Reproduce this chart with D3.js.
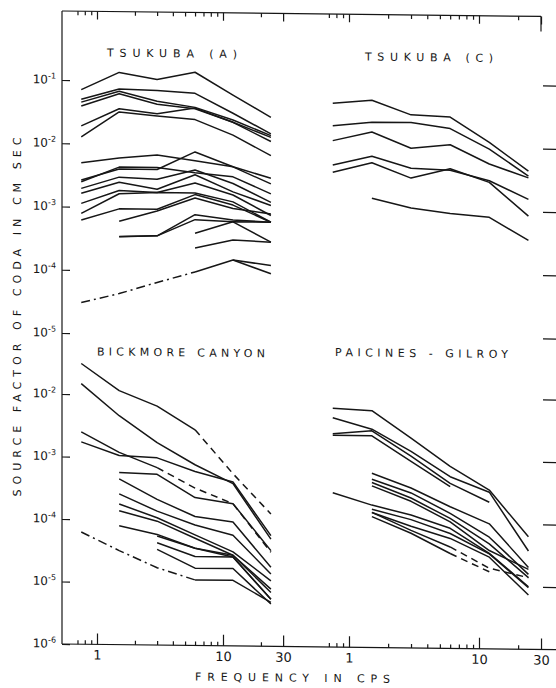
<!DOCTYPE html>
<html>
<head>
<meta charset="utf-8">
<script src="https://cdn.jsdelivr.net/npm/d3@7"></script>
<style>
  body { margin: 0; background: #fff; }
  svg { display: block; }
  text { font-family: "DejaVu Sans", "Liberation Sans", sans-serif; fill: #161616; }
</style>
</head>
<body>
<svg id="fig" width="556" height="688"></svg>
<script>
// Octave-band centre frequencies (cps) at which the coda source factors were measured
const freqs = [0.75, 1.5, 3, 6, 12, 24];

// Frequency axis ticks
const majorFreqTicks = [1, 10, 30];
const majorFreqLabels = ["1", "10", "30"];
const minorFreqTicks = [0.7, 0.8, 0.9, 2, 3, 4, 5, 6, 7, 8, 9, 20];

// Amplitude axis decades (upper and lower rows of panels)
const upperDecades = [1e-1, 1e-2, 1e-3, 1e-4, 1e-5];
const lowerDecades = [1e-2, 1e-3, 1e-4, 1e-5, 1e-6];
const lowerRightTicks = [1e-2, 1e-3, 1e-4, 1e-5];

// Source factor of coda (cm sec), one row per earthquake, null = no measurement
const tsukubaA = [
  [7.1e-2, 1.35e-1, 1.06e-1, 1.40e-1, 6.2e-2, 2.8e-2],
  [5.0e-2, 7.4e-2, 7.1e-2, 6.5e-2, 3.2e-2, 1.53e-2],
  [4.5e-2, 6.8e-2, 4.8e-2, 3.9e-2, 2.5e-2, 1.44e-2],
  [3.9e-2, 6.2e-2, 4.3e-2, 3.7e-2, 2.3e-2, 1.16e-2],
  [1.9e-2, 3.6e-2, 3.05e-2, 3.8e-2, 2.3e-2, 1.35e-2],
  [1.27e-2, 3.2e-2, 2.8e-2, 2.5e-2, 1.44e-2, 6.95e-3],
  [4.95e-3, 6.0e-3, 6.8e-3, 5.6e-3, 4.55e-3, 3.05e-3],
  [2.64e-3, 4.0e-3, 4.0e-3, 7.7e-3, 4.55e-3, 2.48e-3],
  [2.48e-3, 4.3e-3, 4.3e-3, 3.6e-3, 3.16e-3, 1.73e-3],
  [1.95e-3, 2.98e-3, 2.8e-3, 4.0e-3, 2.48e-3, 1.27e-3],
  [1.63e-3, 2.48e-3, 1.95e-3, 3.36e-3, 1.83e-3, 1.13e-3],
  [1.13e-3, 1.83e-3, 1.73e-3, 2.48e-3, 1.63e-3, 7.85e-4],
  [7.85e-4, 1.63e-3, 1.73e-3, 1.73e-3, 1.27e-3, 6.15e-4],
  [6.15e-4, 9.4e-4, 9.4e-4, 1.63e-3, 1.13e-3, 6.15e-4],
  [null, 6.0e-4, 8.85e-4, 1.44e-3, 1.0e-3, 8.3e-4],
  [null, 3.45e-4, 3.57e-4, 7.85e-4, 6.55e-4, 6.15e-4],
  [null, 3.4e-4, 3.57e-4, 6.55e-4, 6.15e-4, 2.98e-4],
  [null, null, null, 4.0e-4, 6.15e-4, 6.15e-4],
  [null, null, null, 2.33e-4, 3.16e-4, 2.98e-4],
  [3.05e-5, 4.3e-5, 6.55e-5, 9.75e-5, null, null],
  [null, null, null, 9.75e-5, 1.53e-4, 1.27e-4],
  [null, null, null, null, 1.53e-4, 9.4e-5]
];
const tsukubaAStyle = ["solid","solid","solid","solid","solid","solid","solid","solid","solid","solid",
  "solid","solid","solid","solid","solid","solid","solid","solid","solid","dashdot","solid","solid"];

const tsukubaC = [
  [4.8e-2, 5.45e-2, 3.25e-2, 3.05e-2, 1.23e-2, 4.4e-3],
  [2.12e-2, 2.45e-2, 2.45e-2, 2.0e-2, 9.65e-3, 3.66e-3],
  [1.23e-2, 1.71e-2, 9.65e-3, 1.11e-2, 5.6e-3, 3.44e-3],
  [5.07e-3, 7.1e-3, 4.65e-3, 4.4e-3, 3.05e-3, 1.57e-3],
  [3.88e-3, 5.6e-3, 3.25e-3, 4.65e-3, 2.87e-3, 8.55e-4],
  [null, 1.53e-3, 1.09e-3, 9.1e-4, 8.05e-4, 3.52e-4]
];
const tsukubaCStyle = ["solid","solid","solid","solid","solid","solid"];

const bickmore = [
  [3.1e-2, 1.16e-2, 6.67e-3, 2.83e-3, null, null],
  [null, null, null, 2.83e-3, 5.7e-4, 1.31e-4],
  [1.48e-2, 4.6e-3, 1.73e-3, 7.8e-4, 3.95e-4, 5.2e-5],
  [2.5e-3, 1.19e-3, 6.9e-4, null, null, null],
  [null, null, 6.9e-4, 3.3e-4, 1.89e-4, 3.2e-5],
  [1.73e-3, 1.06e-3, 9.9e-4, 6.1e-4, 4.2e-4, 5.9e-5],
  [null, 5.7e-4, 5.4e-4, 2.33e-4, 1.89e-4, 3.4e-5],
  [null, 4.5e-4, 2.14e-4, 1.16e-4, 9.6e-5, 1.84e-5],
  [null, 2.58e-4, 1.39e-4, 8.5e-5, 5.9e-5, 1.44e-5],
  [null, 1.78e-4, 1.09e-4, 5.9e-5, 3.2e-5, 1.12e-5],
  [null, 1.39e-4, 9.6e-5, 5.2e-5, 2.82e-5, 8.25e-6],
  [null, 8.0e-5, 5.9e-5, 3.6e-5, 2.65e-5, 5.7e-6],
  [null, null, 5.55e-5, 3.6e-5, 2.82e-5, 7.3e-6],
  [null, null, 4.35e-5, 2.65e-5, 2.65e-5, 5.7e-6],
  [null, null, 3.4e-5, 1.73e-5, 1.73e-5, 4.75e-6],
  [6.25e-5, 3.2e-5, 1.73e-5, 1.12e-5, null, null],
  [null, null, null, 1.12e-5, 1.12e-5, 5.05e-6]
];
const bickmoreStyle = ["solid","dash","solid","solid","dash","solid","solid","solid","solid",
  "solid","solid","solid","solid","solid","solid","dashdot","solid"];

const paicines = [
  [6.6e-3, 6.15e-3, 2.27e-3, 8.2e-4, 3.47e-4, 6.3e-5],
  [4.67e-3, 3.11e-3, 1.4e-3, 5.58e-4, 3.21e-4, 3.74e-5],
  [2.59e-3, 2.93e-3, 1.17e-3, 4.36e-4, 2.22e-4, null],
  [2.44e-3, 2.44e-3, 9.7e-4, 3.86e-4, null, null],
  [null, 6.15e-4, 3.63e-4, 1.85e-4, 1.0e-4, 2.03e-5],
  [null, 4.93e-4, 3.02e-4, 1.45e-4, 6.12e-5, 1.58e-5],
  [null, 4.36e-4, 2.51e-4, 1.2e-4, 4.79e-5, 1.4e-5],
  [null, 3.86e-4, 2.22e-4, 1.06e-4, 3.74e-5, 1.9e-5],
  [2.95e-4, 1.9e-4, 1.34e-4, 8.35e-5, 3.37e-5, 1.0e-5],
  [null, 1.63e-4, 1.13e-4, 6.9e-5, 3.31e-5, 9.7e-6],
  [null, 1.45e-4, 8.85e-5, 5.75e-5, 2.93e-5, 7.4e-6],
  [null, 1.45e-4, 7.6e-5, 4.2e-5, null, null],
  [null, null, null, 4.2e-5, 1.95e-5, 1.4e-5],
  [null, 1.24e-4, 6.85e-5, 3.3e-5, null, null],
  [null, null, null, 3.3e-5, 1.71e-5, null]
];
const paicinesStyle = ["solid","solid","solid","solid","solid","solid","solid","solid",
  "solid","solid","solid","solid","dash","solid","dash"];

const panelTitles = ["TSUKUBA (A)", "TSUKUBA (C)", "BICKMORE CANYON", "PAICINES - GILROY"];
const xTitle = "FREQUENCY IN CPS";
const yTitle = "SOURCE FACTOR OF CODA IN CM SEC";

// ---------------------------------------------------------------------------
const ink = "#161616";
const dashes = { solid: null, dash: "7,5", dashdot: "9,4,2,4" };

const svg = d3.select("#fig");
svg.append("rect").attr("width", 556).attr("height", 688).attr("fill", "#fff");

// The whole figure leans slightly: right-hand side sits a few pixels lower
const g = svg.append("g").attr("transform", "translate(62,0) skewY(0.65) translate(-62,0)");

// Scales: two frequency columns, two amplitude rows
const xL = d3.scaleLog().domain([1, 10]).range([97, 223]);
const xR = d3.scaleLog().domain([1, 10]).range([349, 479]);
const yU = d3.scaleLog().domain([1e-1, 1e-5]).range([80, 333]);
const yB = d3.scaleLog().domain([1e-2, 1e-6]).range([394, 644]);

const axisY0 = 644, axisTop = 11, axisX0 = 62;

// Frame lines
const frame = g.append("g").attr("stroke", ink).attr("stroke-width", 1.2).attr("fill", "none");
frame.append("line").attr("x1", axisX0).attr("x2", axisX0).attr("y1", axisTop).attr("y2", axisY0);
frame.append("line").attr("x1", axisX0).attr("x2", 556).attr("y1", axisY0).attr("y2", axisY0);
frame.append("line").attr("x1", axisX0).attr("x2", 541).attr("y1", axisTop).attr("y2", axisTop);
frame.append("line").attr("x1", 541).attr("x2", 541).attr("y1", axisTop).attr("y2", axisTop + 15);

function styleAxis(sel) {
  sel.select(".domain").remove();
  sel.selectAll(".tick line").attr("stroke", ink).attr("stroke-width", 1.2);
  sel.attr("font-family", "DejaVu Sans, sans-serif");
}

// Frequency axes (bottom with labels, top with ticks only)
[xL, xR].forEach(x => {
  g.append("g").attr("transform", `translate(0,${axisY0})`)
    .call(d3.axisBottom(x).tickValues(majorFreqTicks)
      .tickFormat((d, i) => majorFreqLabels[i]).tickSizeInner(-11).tickSizeOuter(0).tickPadding(6))
    .call(styleAxis)
    .call(s => s.selectAll("text").attr("font-size", 13).attr("fill", ink));
  g.append("g").attr("transform", `translate(0,${axisY0})`)
    .call(d3.axisBottom(x).tickValues(minorFreqTicks).tickFormat("").tickSizeInner(-4).tickSizeOuter(0))
    .call(styleAxis);
  g.append("g").attr("transform", `translate(0,${axisTop})`)
    .call(d3.axisTop(x).tickValues(majorFreqTicks).tickFormat("").tickSizeInner(-8).tickSizeOuter(0))
    .call(styleAxis);
  g.append("g").attr("transform", `translate(0,${axisTop})`)
    .call(d3.axisTop(x).tickValues(minorFreqTicks).tickFormat("").tickSizeInner(-4).tickSizeOuter(0))
    .call(styleAxis);
});

// Amplitude axes: labelled on the left, bare ticks on the right
function powerLabels(sel) {
  sel.selectAll(".tick text").text(null).attr("fill", ink).each(function (d) {
    const t = d3.select(this);
    t.append("tspan").attr("font-size", 12).text("10");
    t.append("tspan").attr("font-size", 8).attr("dy", -5).text("-" + Math.round(-Math.log10(d)));
  });
}
[[yU, upperDecades], [yB, lowerDecades]].forEach(([y, vals]) => {
  g.append("g").attr("transform", `translate(${axisX0},0)`)
    .call(d3.axisLeft(y).tickValues(vals).tickSizeInner(-8).tickSizeOuter(0).tickPadding(6))
    .call(styleAxis).call(powerLabels);
});
[[yU, upperDecades], [yB, lowerRightTicks]].forEach(([y, vals]) => {
  g.append("g").attr("transform", "translate(543,0)")
    .call(d3.axisRight(y).tickValues(vals).tickFormat("").tickSizeInner(15).tickSizeOuter(0))
    .call(styleAxis);
});

// Spectra
function drawPanel(x, y, series, styles) {
  const line = d3.line()
    .defined(d => d != null)
    .x((d, i) => x(freqs[i]))
    .y(d => y(d));
  g.append("g").selectAll("path").data(series).join("path")
    .attr("d", line)
    .attr("fill", "none")
    .attr("stroke", ink)
    .attr("stroke-width", 1.5)
    .attr("stroke-linejoin", "round")
    .attr("stroke-dasharray", (d, i) => dashes[styles[i]]);
}
drawPanel(xL, yU, tsukubaA, tsukubaAStyle);
drawPanel(xR, yU, tsukubaC, tsukubaCStyle);
drawPanel(xL, yB, bickmore, bickmoreStyle);
drawPanel(xR, yB, paicines, paicinesStyle);

// Titles
const titlePos = [[107, 56, 130], [365, 57, 128], [97, 355, 168], [335, 353, 173]];
panelTitles.forEach((t, i) => {
  const [px, py, len] = titlePos[i];
  g.append("text").attr("x", px).attr("y", py).attr("font-size", 11)
    .attr("textLength", len).attr("lengthAdjust", "spacing").text(t);
});
g.append("text").attr("x", 195).attr("y", 679).attr("font-size", 11)
  .attr("textLength", 195).attr("lengthAdjust", "spacing").text(xTitle);
g.append("text").attr("transform", "translate(21,497) rotate(-90)").attr("font-size", 11)
  .attr("textLength", 359).attr("lengthAdjust", "spacing").text(yTitle);
</script>
</body>
</html>
